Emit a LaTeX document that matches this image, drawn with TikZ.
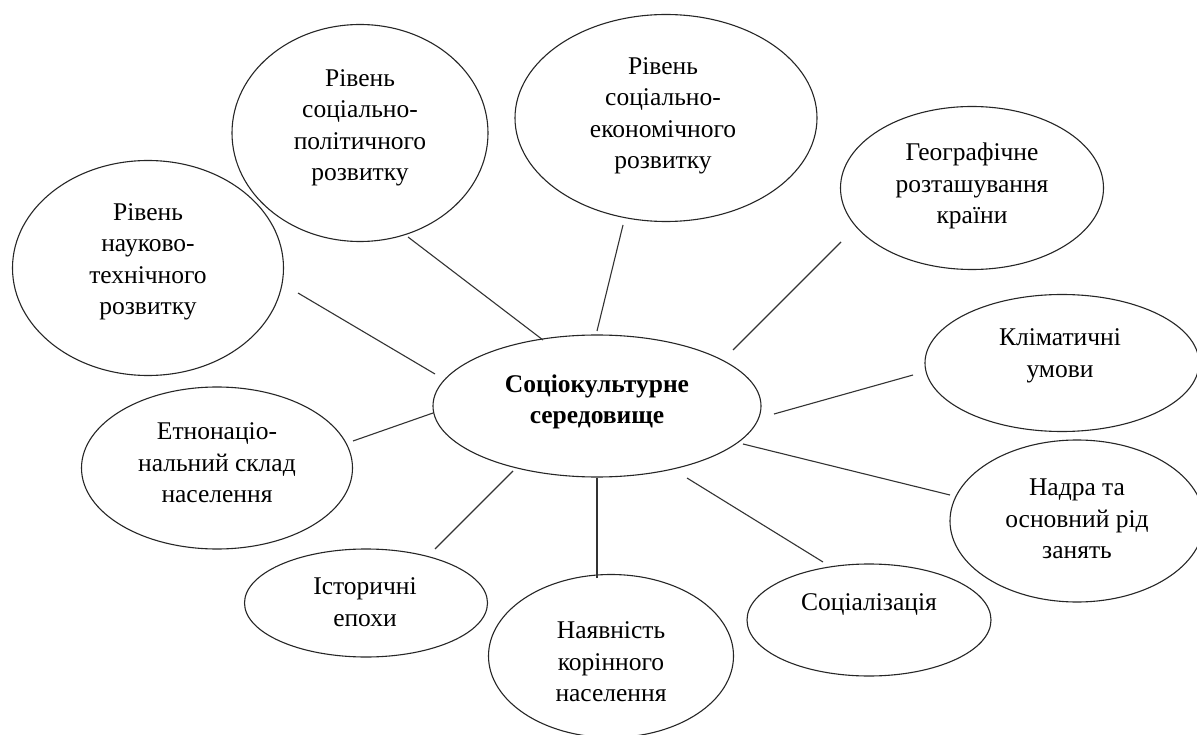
\documentclass[tikz,border=0pt]{standalone}
\usepackage{fontspec}
\setmainfont{Liberation Serif}
\usetikzlibrary{shapes.geometric}
\tikzset{
  bub/.style={draw=black!85, line width=1.1pt, ellipse, inner sep=0pt},
  lbl/.style={align=center, font=\fontsize{25.5}{31.5}\selectfont, text=black, inner sep=0pt},
  conn/.style={draw=black!80, line width=1.1pt},
}
\begin{document}
\begin{tikzpicture}[x=1pt,y=-1pt]
\useasboundingbox (0,0) rectangle (1197,735);
\fill[white] (0,0) rectangle (1197,735);
% ellipses
\node[bub, minimum width=328pt, minimum height=142pt] (cen) at (597,406) {};
\node[bub, minimum width=271pt, minimum height=215pt] (sci) at (148,268) {};
\node[bub, minimum width=256pt, minimum height=217pt] (pol) at (360,133) {};
\node[bub, minimum width=302pt, minimum height=207pt] (eco) at (666,118) {};
\node[bub, minimum width=263pt, minimum height=163pt] (geo) at (972,188) {};
\node[bub, minimum width=274pt, minimum height=137pt] (cli) at (1062,363) {};
\node[bub, minimum width=254pt, minimum height=162pt] (nad) at (1077,521) {};
\node[bub, minimum width=244pt, minimum height=112pt] (soc) at (869,620) {};
\node[bub, minimum width=245pt, minimum height=163pt] (nay) at (611,656) {};
\node[bub, minimum width=243pt, minimum height=108pt] (ist) at (366,603) {};
\node[bub, minimum width=271pt, minimum height=162pt] (etn) at (217,468) {};
% texts
\node[lbl, font=\fontsize{25.5}{31.5}\selectfont\bfseries] (cent) at (597,402) {Соціокультурне\\середовище};
\node[lbl] (scit) at (148,262) {Рівень\\науково-\\технічного\\розвитку};
\node[lbl] (polt) at (360,128) {Рівень\\соціально-\\політичного\\розвитку};
\node[lbl] (ecot) at (663,116) {Рівень\\соціально-\\економічного\\розвитку};
\node[lbl] (geot) at (972,186) {Географічне\\розташування\\країни};
\node[lbl] (clit) at (1060,356) {Кліматичні\\умови};
\node[lbl] (nadt) at (1077,519) {Надра та\\основний рід\\занять};
\node[lbl] (soct) at (869,605) {Соціалізація};
\node[lbl] (nayt) at (611,662) {Наявність\\корінного\\населення};
\node[lbl] (istt) at (365,602) {Історичні\\епохи};
\node[lbl] (etnt) at (217,463) {Етнонаціо-\\нальний склад\\населення};
% connector ends
\coordinate (a1) at (298,293); \coordinate (b1) at (435,374);
\coordinate (a2) at (408,237); \coordinate (b2) at (543,340);
\coordinate (a3) at (623,225); \coordinate (b3) at (597,331);
\coordinate (a4) at (841,242); \coordinate (b4) at (733,350);
\coordinate (a5) at (913,375); \coordinate (b5) at (774,414);
\coordinate (a6) at (950,495); \coordinate (b6) at (743,444);
\coordinate (a7) at (823,562); \coordinate (b7) at (687,478);
\coordinate (a8) at (597,578); \coordinate (b8) at (597,478);
\coordinate (a9) at (435,549); \coordinate (b9) at (513,471);
\coordinate (a10) at (353,441); \coordinate (b10) at (433,413);
\foreach \i in {1,...,10} {\draw[conn] (a\i) -- (b\i);}
\end{tikzpicture}
\end{document}
